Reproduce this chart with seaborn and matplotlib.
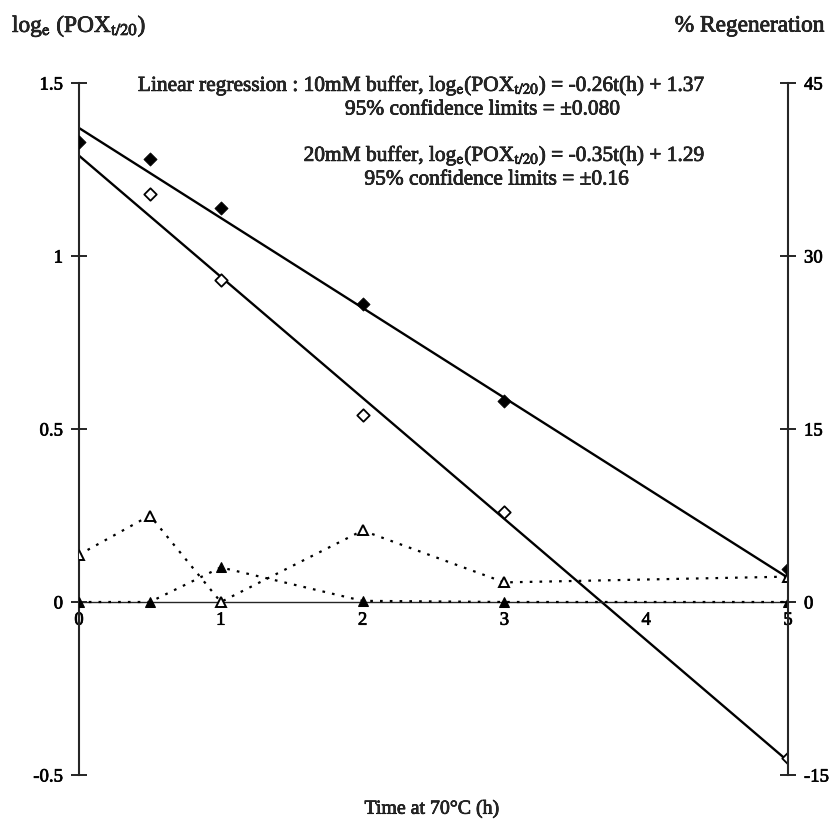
import numpy as np
import pandas as pd
import matplotlib
matplotlib.use("Agg")
import matplotlib.pyplot as plt
import matplotlib.patheffects as pe
import seaborn as sns

# ---- data ----
t_10mM = [0, 0.5, 1, 2, 3, 5]
logpox_10mM = [1.33, 1.28, 1.14, 0.86, 0.58, 0.095]

t_20mM = [0.5, 1, 2, 3, 5]
logpox_20mM = [1.18, 0.93, 0.54, 0.26, -0.45]

# regression coefficients (from the annotation)
reg_slope = [-0.26, -0.35]
reg_intercept = [1.37, 1.29]
reg_range = [0, 5]

t_regen = [0, 0.5, 1, 2, 3, 5]
regen_open = [4.1, 7.5, 0.0, 6.2, 1.7, 2.2]
regen_filled = [0.0, 0.0, 3.0, 0.1, 0.0, 0.0]

x_ticks = [0, 1, 2, 3, 4, 5]
y_left_ticks = [-0.5, 0, 0.5, 1, 1.5]
y_left_labels = ["-0.5", "0", "0.5", "1", "1.5"]
y_right_ticks = [-15, 0, 15, 30, 45]

sns.set_style("white")
plt.rcParams["font.family"] = ["Liberation Serif", "DejaVu Serif"]
plt.rcParams["mathtext.fontset"] = "stix"

thick = [pe.withStroke(linewidth=0.5, foreground="black")]

fig = plt.figure(figsize=(8.35, 8.29), dpi=100)
ax = fig.add_axes([79 / 835, 1 - 776 / 829, (788 - 79) / 835, (776 - 84) / 829])
ax2 = ax.twinx()

# regression lines
for s, b in zip(reg_slope, reg_intercept):
    xs = np.array(reg_range, dtype=float)
    sns.lineplot(x=xs, y=s * xs + b, ax=ax, color="black", linewidth=1.7)

# % regeneration (right axis), dotted
dot = (0, (1.2, 3.2))
sns.lineplot(x=t_regen, y=regen_open, ax=ax2, color="black", linewidth=1.6,
             linestyle=dot, marker="^", markersize=7, markerfacecolor="white",
             markeredgecolor="black", markeredgewidth=1.4)
sns.lineplot(x=t_regen, y=regen_filled, ax=ax2, color="black", linewidth=1.6,
             linestyle=dot, marker="^", markersize=7, markerfacecolor="black",
             markeredgecolor="black")

# data points
sns.scatterplot(x=t_10mM, y=logpox_10mM, ax=ax, marker="D", s=45,
                color="black", edgecolor="black", zorder=5)
sns.scatterplot(x=t_20mM, y=logpox_20mM, ax=ax, marker="D", s=40,
                facecolor="white", edgecolor="black", linewidth=1.3, zorder=5)

ax.set_xlim(0, 5)
ax.set_ylim(-0.5, 1.5)
ax2.set_ylim(-15, 45)

ax.spines["top"].set_visible(False)
ax.spines["right"].set_visible(False)
ax.spines["bottom"].set_position(("data", 0))
ax.spines["bottom"].set_linewidth(1.0)
ax.spines["left"].set_linewidth(1.5)
for sp in ["top", "left", "bottom"]:
    ax2.spines[sp].set_visible(False)
ax2.spines["right"].set_linewidth(1.5)

ax.set_xticks(x_ticks)
ax.set_xticklabels([str(v) for v in x_ticks])
ax.set_yticks(y_left_ticks)
ax.set_yticklabels(y_left_labels)
ax2.set_yticks(y_right_ticks)
ax2.set_yticklabels([str(v) for v in y_right_ticks])

ax.tick_params(axis="x", length=0, labelsize=13.5, pad=7, colors="black")
ax.tick_params(axis="y", direction="inout", length=11, width=1.2,
               labelsize=13.5, pad=6, colors="black", left=True)
ax2.tick_params(axis="y", direction="inout", length=11, width=1.2,
                labelsize=13.5, pad=6, colors="black", right=True)
for lab in ax.get_xticklabels() + ax.get_yticklabels() + ax2.get_yticklabels():
    lab.set_path_effects(thick)
ax.set_xlabel("")
ax.set_ylabel("")
ax2.set_ylabel("")

fs = 15.4
texts = []
texts.append(fig.text(12 / 835, 1 - 27 / 829, r"log$_\mathrm{e}$ (POX$_{\mathrm{t/20}}$)",
                      fontsize=16.8, ha="left", va="center"))
texts.append(fig.text(825 / 835, 1 - 27 / 829, "% Regeneration", fontsize=16.8,
                      ha="right", va="center"))
texts.append(fig.text(432 / 835, 1 - 810 / 829, "Time at 70°C (h)", fontsize=14.3,
                      ha="center", va="center"))

texts.append(fig.text(705 / 835, 1 - 87 / 829,
         r"Linear regression : 10mM buffer, log$_\mathrm{e}$(POX$_{\mathrm{t/20}}$) = -0.26t(h) + 1.37",
         fontsize=fs, ha="right", va="center"))
texts.append(fig.text(483 / 835, 1 - 111 / 829, "95% confidence limits = ±0.080",
         fontsize=fs, ha="center", va="center"))
texts.append(fig.text(705 / 835, 1 - 157 / 829,
         r"20mM buffer, log$_\mathrm{e}$(POX$_{\mathrm{t/20}}$) = -0.35t(h) + 1.29",
         fontsize=fs, ha="right", va="center"))
texts.append(fig.text(497 / 835, 1 - 181 / 829, "95% confidence limits = ±0.16",
         fontsize=fs, ha="center", va="center"))
for t in texts:
    t.set_path_effects(thick)

fig.savefig("out.png", dpi=100)
